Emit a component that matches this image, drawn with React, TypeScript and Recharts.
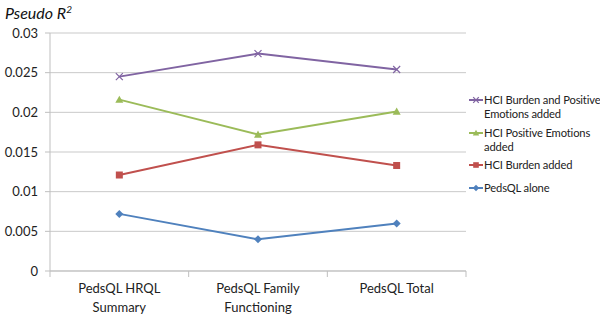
import React from 'react';
import { LineChart, Line, XAxis, YAxis, CartesianGrid } from 'recharts';

// Pseudo R² by PedsQL outcome, for each model
const categories = ['PedsQL HRQL Summary', 'PedsQL Family Functioning', 'PedsQL Total'];
const categoryLines = [['PedsQL HRQL', 'Summary'], ['PedsQL Family', 'Functioning'], ['PedsQL Total']];
const pedsqlAlone = [0.0072, 0.004, 0.006];
const hciBurden = [0.0121, 0.0159, 0.0133];
const hciPositive = [0.0216, 0.0172, 0.0201];
const hciBoth = [0.0245, 0.0274, 0.0254];
const yTicks = [0, 0.005, 0.01, 0.015, 0.02, 0.025, 0.03];

const FONT = 'Lato, "Open Sans", sans-serif';
const AXIS = '#bfbfbf';
const GRID = '#c9c9c9';

const chartData = categories.map((name, i) => ({
    name,
    alone: pedsqlAlone[i],
    burden: hciBurden[i],
    positive: hciPositive[i],
    both: hciBoth[i],
}));

type Marker = 'diamond' | 'square' | 'triangle' | 'cross';

const drawMarker = (kind: Marker, cx: number, cy: number, color: string, s = 1) => {
    if (kind === 'diamond') {
        const r = 4 * s;
        return <polygon points={`${cx},${cy - r} ${cx + r},${cy} ${cx},${cy + r} ${cx - r},${cy}`} fill={color} />;
    }
    if (kind === 'square') {
        const r = 3.5 * s;
        return <rect x={cx - r} y={cy - r} width={r * 2} height={r * 2} fill={color} />;
    }
    if (kind === 'triangle') {
        const r = 4 * s;
        return <polygon points={`${cx},${cy - r} ${cx + r},${cy + r * 0.8} ${cx - r},${cy + r * 0.8}`} fill={color} />;
    }
    const r = 3.5 * s;
    return (
        <g stroke={color} strokeWidth={1.2}>
            <line x1={cx - r} y1={cy - r} x2={cx + r} y2={cy + r} />
            <line x1={cx - r} y1={cy + r} x2={cx + r} y2={cy - r} />
        </g>
    );
};

// legend labels are wrapped the way the original wraps them
const series: { key: string; name: string; lines: string[]; color: string; marker: Marker; gap: number }[] = [
    { key: 'alone', name: 'PedsQL alone', lines: ['PedsQL alone'], color: '#4f81bd', marker: 'diamond', gap: 0 },
    { key: 'burden', name: 'HCI Burden added', lines: ['HCI Burden added'], color: '#c0504d', marker: 'square', gap: 9 },
    { key: 'positive', name: 'HCI Positive Emotions added', lines: ['HCI Positive Emotions', 'added'], color: '#9bbb59', marker: 'triangle', gap: 4 },
    { key: 'both', name: 'HCI Burden and Positive Emotions added', lines: ['HCI Burden and Positive', 'Emotions added'], color: '#8064a2', marker: 'cross', gap: 5 },
];

const CategoryTick = (props: any) => {
    const { x, y, payload, index } = props;
    const off = payload.offset ?? 0;
    const lines = categoryLines[index] || [String(payload.value)];
    return (
        <g>
            <line x1={x - off} y1={y} x2={x - off} y2={y + 6} stroke={AXIS} />
            {index === categories.length - 1 && (
                <line x1={x + off} y1={y} x2={x + off} y2={y + 6} stroke={AXIS} />
            )}
            <text x={x} y={y} textAnchor="middle" fill="#222" fontSize={13} fontFamily={FONT}>
                {lines.map((l, i) => (
                    <tspan key={i} x={x} dy={i === 0 ? 22 : 19}>{l}</tspan>
                ))}
            </text>
        </g>
    );
};

export default function App() {
    return (
        <div style={{ position: 'absolute', left: 0, top: 0, width: 600, height: 316, background: '#fff', fontFamily: FONT }}>
            <div style={{ position: 'absolute', left: 5, top: 3, fontSize: 16, fontStyle: 'italic', color: '#111' }}>
                Pseudo R<sup style={{ fontSize: 10 }}>2</sup>
            </div>

            <LineChart width={600} height={316} data={chartData} margin={{ top: 33, right: 134, bottom: 0, left: 0 }}>
                <CartesianGrid vertical={false} stroke={GRID} />
                <XAxis
                    dataKey="name"
                    scale="band"
                    height={45}
                    axisLine={{ stroke: AXIS }}
                    tickLine={false}
                    tickSize={0}
                    tickMargin={0}
                    tick={<CategoryTick />}
                    interval={0}
                />
                <YAxis
                    width={50}
                    domain={[0, 0.03]}
                    ticks={yTicks}
                    axisLine={{ stroke: AXIS }}
                    tickLine={{ stroke: AXIS }}
                    tickSize={5}
                    tickMargin={7}
                    tick={{ fill: '#222', fontSize: 13, fontFamily: FONT }}
                />
                {series.map(s => (
                    <Line
                        key={s.key}
                        dataKey={s.key}
                        name={s.name}
                        stroke={s.color}
                        strokeWidth={2}
                        isAnimationActive={false}
                        dot={(p: any) => <g key={`${s.key}-${p.index}`}>{drawMarker(s.marker, p.cx, p.cy, s.color)}</g>}
                        activeDot={false}
                    />
                ))}
            </LineChart>

            {/* legend, top entry first like the original */}
            <div style={{ position: 'absolute', left: 468, top: 93, width: 132, fontSize: 11.2, lineHeight: '14px', color: '#222', whiteSpace: 'nowrap', letterSpacing: -0.15 }}>
                {[...series].reverse().map(s => (
                    <div key={s.key} style={{ display: 'flex', alignItems: 'flex-start', marginBottom: s.gap }}>
                        <svg width={16} height={14} style={{ flex: 'none' }}>
                            <line x1={1} y1={7} x2={15} y2={7} stroke={s.color} strokeWidth={2} />
                            {drawMarker(s.marker, 8, 7, s.color, 0.8)}
                        </svg>
                        <span>
                            {s.lines.map((l, i) => <div key={i}>{l}</div>)}
                        </span>
                    </div>
                ))}
            </div>
        </div>
    );
}
